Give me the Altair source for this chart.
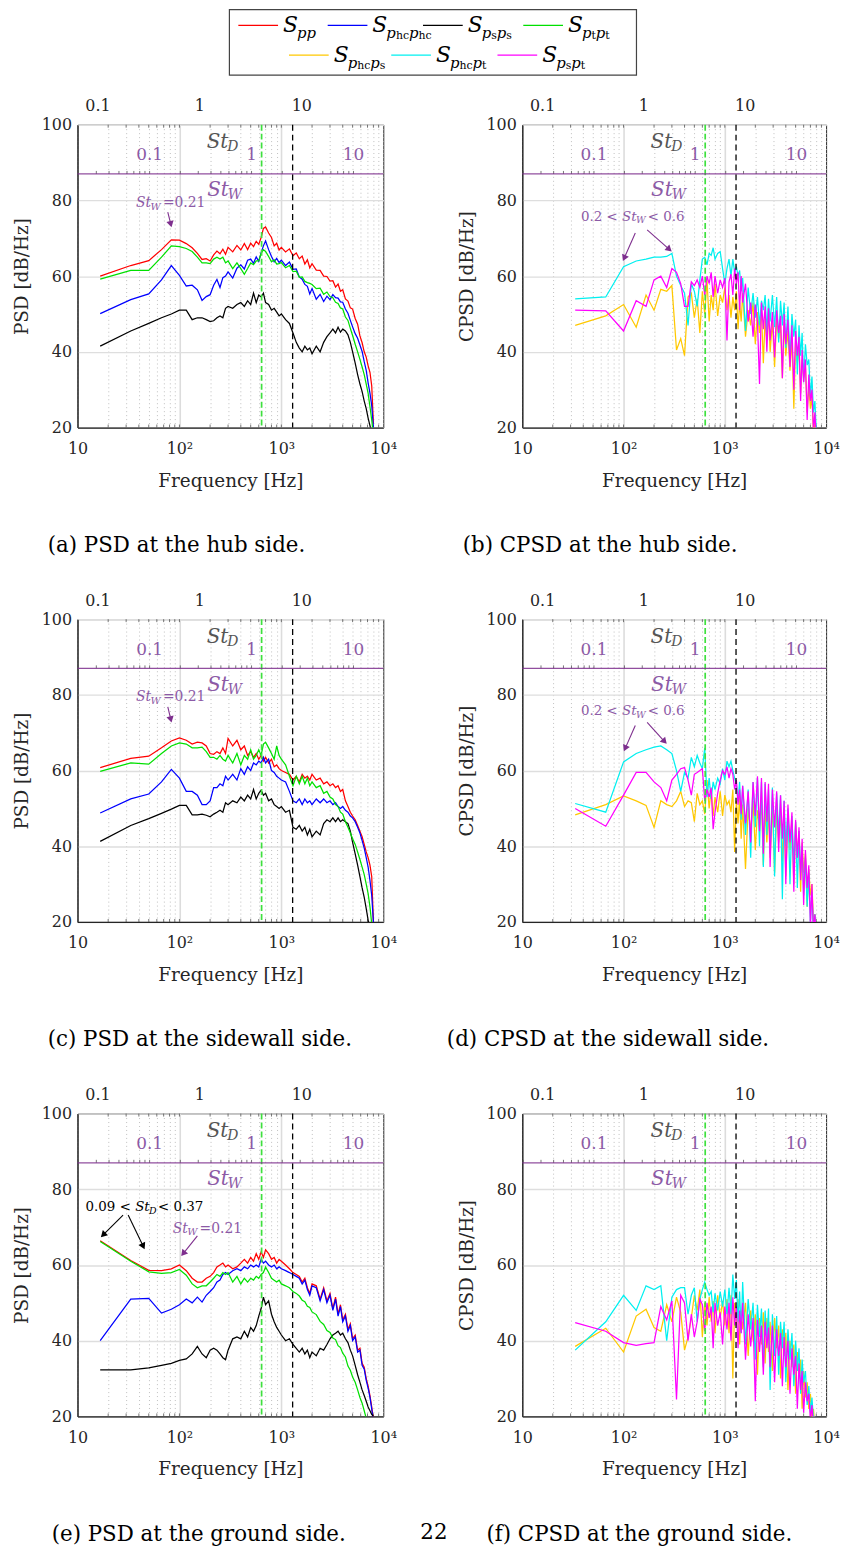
import math
import altair as alt
import pandas as pd

FONT = "DejaVu Serif"
AX = "#262626"
PURPLE = "#7E2F8E"
PURPLE_TXT = "#8C5AA6"
GRAY_TXT = "#555555"
NB = "\u00a0"

WL, WR, H = 308, 306, 305
X_DOMAIN = [10, 10000]
Y_DOMAIN = [20, 100]

# ---------------- data ----------------
F_PSD = [
    16.7, 33.3, 50, 66.7, 83.3, 100, 116.7, 133.3, 150, 166.7,
    183.3, 200, 216.7, 233.3, 250, 266.7, 283.3, 300, 333.3, 366.7,
    400, 433.3, 466.7, 500, 533.3, 566.7, 600, 633.3, 666.7, 700,
    750, 800, 850, 900, 950, 1000, 1100, 1200, 1300, 1400,
    1500, 1600, 1700, 1800, 1900, 2000, 2200, 2400, 2600, 2800,
    3000, 3200, 3400, 3600, 3800, 4000, 4250, 4500, 4750, 5000,
    5300, 5600, 5900, 6200, 6500, 6800, 7100, 7400, 7700, 8000,
]
F_CPSD = [
    33.3, 66.7, 100, 133.3, 166.7, 200, 233.3, 266.7, 300, 333.3,
    366.7, 400, 433.3, 466.7, 500, 533.3, 566.7, 600, 633.3, 666.7,
    700, 733.3, 766.7, 800, 850, 900, 950, 1000, 1050, 1100,
    1150, 1200, 1250, 1300, 1350, 1400, 1450, 1500, 1600, 1700,
    1800, 1900, 2000, 2100, 2200, 2300, 2400, 2500, 2600, 2700,
    2800, 2950, 3100, 3250, 3400, 3550, 3700, 3850, 4000, 4200,
    4400, 4600, 4800, 5000, 5200, 5400, 5600, 5800, 6000, 6250,
    6500, 6750, 7000, 7250, 7500, 7750, 8000, 8250,
]

# (a) PSD hub
A_PP = [
    60.0, 62.8, 64.1, 67.0, 69.6, 69.5, 68.6, 67.5, 66.0, 64.4,
    64.6, 64.0, 65.6, 66.6, 65.9, 67.1, 65.8, 67.6, 66.4, 68.1,
    66.9, 68.6, 67.0, 68.7, 67.8, 69.2, 68.4, 70.2, 72.6, 73.0,
    71.4, 70.2, 68.0, 68.7, 66.9, 67.6, 66.4, 67.2, 65.4, 66.1,
    64.6, 65.3, 63.2, 64.3, 62.2, 63.3, 61.6, 61.5, 60.0, 59.9,
    58.7, 58.8, 57.1, 57.9, 56.0, 56.4, 54.0, 53.4, 51.6, 51.3,
    48.8, 47.3, 44.2, 42.4, 40.0, 38.6, 36.3, 34.6, 31.0, 21.0,
]
A_HC = [
    50.1, 53.8, 55.3, 59.0, 62.8, 60.2, 57.4, 57.6, 56.4, 53.6,
    54.6, 55.1, 57.6, 59.1, 57.0, 59.6, 60.0, 61.1, 59.5, 62.1,
    63.0, 61.9, 64.2, 64.5, 63.4, 65.1, 63.9, 66.2, 68.0, 69.3,
    67.0, 65.2, 63.8, 64.7, 63.6, 64.2, 62.8, 63.7, 61.8, 61.9,
    59.8, 59.2, 57.8, 57.3, 55.3, 56.7, 53.9, 55.2, 53.3, 54.7,
    53.8, 55.1, 54.3, 54.2, 53.2, 53.1, 51.3, 50.2, 48.3, 46.6,
    44.8, 43.6, 41.8, 40.1, 37.4, 35.1, 31.8, 29.1, 25.8, 20.0,
]
A_S = [
    41.5, 45.5, 47.5, 49.0, 50.0, 51.0, 51.0, 48.5, 49.0, 49.0,
    48.5, 48.0, 48.2, 49.0, 49.5, 49.0, 51.5, 52.0, 51.5, 52.5,
    53.0, 52.0, 53.5, 52.5, 55.5, 53.0, 55.0, 54.5, 55.5, 53.0,
    52.5, 51.0, 51.5, 50.5, 49.5, 50.0, 48.5, 47.5, 45.0, 42.5,
    41.0, 40.0, 41.5, 40.5, 41.0, 39.5, 41.5, 40.0, 42.5, 44.0,
    45.0, 46.0, 45.0, 46.5, 45.2, 46.0, 45.5, 44.5, 42.5, 40.0,
    37.0, 34.0, 31.5, 29.5, 27.0, 25.0, 22.5, 20.5, 18.5, 16.0,
]
A_T = [
    59.2, 61.5, 61.5, 65.0, 68.0, 67.8, 67.3, 66.5, 65.0, 63.5,
    63.5, 63.3, 64.5, 65.0, 64.5, 65.0, 63.5, 64.0, 62.0, 63.5,
    62.0, 60.5, 62.0, 63.5, 63.0, 64.0, 64.0, 66.0, 67.0, 66.5,
    65.2, 63.8, 64.3, 63.2, 63.3, 63.6, 62.2, 62.8, 61.2, 61.3,
    59.7, 59.8, 58.6, 58.3, 58.1, 57.8, 56.7, 56.8, 55.2, 55.8,
    54.6, 54.3, 53.1, 52.8, 51.6, 51.3, 49.2, 48.3, 46.2, 44.3,
    42.0, 40.0, 38.0, 36.0, 34.0, 31.5, 29.0, 25.5, 22.0, 18.0,
]
# (c) PSD sidewall
C_PP = [
    60.8, 63.2, 63.8, 66.0, 67.8, 68.6, 68.0, 67.0, 67.5, 67.3,
    66.5, 64.5, 64.3, 65.0, 64.5, 66.0, 64.5, 68.5, 66.5, 68.0,
    65.5, 66.5, 64.0, 65.0, 63.5, 64.5, 63.0, 64.0, 62.5, 63.5,
    62.0, 63.0, 61.0, 61.5, 60.5, 60.0, 59.5, 59.0, 57.5, 58.5,
    57.0, 59.0, 58.0, 58.5, 57.5, 59.0, 57.5, 58.0, 56.5, 57.0,
    56.0, 56.5, 55.5, 56.0, 54.5, 55.0, 52.0, 50.5, 49.0, 48.0,
    47.0, 45.5, 44.0, 42.5, 40.5, 38.5, 37.0, 35.0, 32.0, 20.0,
]
C_HC = [
    48.8, 52.5, 53.8, 57.0, 60.3, 58.0, 54.5, 54.5, 53.5, 51.0,
    51.0, 52.0, 55.5, 55.5, 56.5, 56.0, 58.5, 57.5, 59.0, 57.5,
    60.5, 59.0, 61.0, 60.0, 62.0, 61.5, 62.5, 62.0, 63.5, 62.0,
    63.0, 60.0, 59.5, 58.5, 58.0, 57.5, 57.0, 54.5, 52.0, 51.5,
    52.5, 51.0, 52.5, 51.5, 52.0, 51.0, 52.5, 51.5, 52.5, 51.5,
    52.0, 51.0, 51.5, 50.5, 50.0, 50.5, 49.5, 49.0, 48.0, 47.5,
    46.5, 45.0, 43.5, 41.5, 39.5, 37.0, 34.5, 31.0, 27.0, 20.0,
]
C_S = [
    41.3, 45.5, 47.3, 48.7, 49.8, 50.8, 50.8, 48.3, 48.3, 48.5,
    48.2, 47.8, 48.5, 49.0, 49.5, 49.0, 51.5, 51.0, 52.0, 51.5,
    53.0, 52.0, 53.5, 52.5, 55.0, 52.5, 54.0, 54.8, 53.5, 54.0,
    52.0, 52.5, 51.0, 50.5, 50.0, 50.5, 49.0, 49.5, 45.0, 44.5,
    45.5, 44.0, 45.0, 43.0, 44.5, 42.5, 44.0, 43.0, 46.0, 47.0,
    46.5, 47.5, 46.5, 47.5, 46.5, 47.0, 46.5, 46.0, 44.0, 41.0,
    38.0, 35.0, 32.0, 29.0, 26.5, 23.5, 20.5, 18.0, 16.0, 14.0,
]
C_T = [
    59.8, 62.0, 61.7, 64.5, 66.5, 67.3, 67.0, 66.0, 66.0, 66.2,
    65.0, 63.5, 63.5, 63.0, 64.0, 63.0, 62.5, 64.0, 62.0, 64.5,
    61.5, 64.0, 63.0, 65.5, 63.0, 64.0, 65.5, 64.0, 67.0, 67.5,
    66.0, 64.5, 63.0, 66.5, 64.0, 63.0, 61.5, 58.5, 56.0, 58.5,
    56.5, 58.5, 56.5, 58.0, 56.0, 57.0, 55.5, 56.0, 54.0, 54.5,
    53.0, 52.5, 51.0, 50.5, 49.0, 48.5, 46.5, 45.0, 43.5, 42.0,
    40.5, 38.5, 36.5, 34.5, 32.5, 30.0, 27.5, 24.0, 19.5, 16.0,
]
# (e) PSD ground
E_PP = [
    66.4, 61.2, 58.6, 58.5, 59.0, 60.0, 58.5, 56.5, 55.5, 55.5,
    56.5, 57.0, 58.0, 59.5, 60.0, 60.5, 59.5, 60.0, 59.0, 59.5,
    60.5, 61.5, 60.5, 62.0, 61.0, 63.0, 61.5, 63.5, 62.0, 64.0,
    63.0, 61.5, 62.0, 60.5, 61.5, 61.0, 60.0, 59.0, 58.0, 57.5,
    57.0, 55.5, 56.5, 54.0, 52.5, 55.0, 54.5, 51.0, 54.0, 50.5,
    52.5, 48.5, 51.5, 47.0, 49.5, 45.5, 47.0, 43.0, 44.5, 40.5,
    41.5, 37.5, 38.0, 34.0, 33.0, 30.0, 28.0, 25.5, 22.5, 19.0,
]
E_HC = [
    40.0, 51.0, 51.2, 47.3, 48.3, 49.5, 51.0, 50.0, 51.5, 50.2,
    52.0, 53.0, 54.0, 55.5, 56.0, 57.5, 58.0, 57.5, 58.5, 59.0,
    58.5, 59.5, 59.0, 60.0, 59.5, 60.0, 59.5, 61.5, 60.5, 61.0,
    60.0, 59.5, 60.0, 59.0, 59.5, 59.0, 58.5, 58.0, 57.5, 57.0,
    56.5, 55.0, 56.0, 53.5, 52.0, 54.5, 54.0, 50.5, 53.5, 50.0,
    52.0, 48.0, 51.0, 46.5, 49.0, 45.0, 46.5, 42.5, 44.0, 40.0,
    41.0, 37.0, 37.5, 33.5, 32.5, 29.5, 27.5, 25.0, 22.0, 18.5,
]
E_S = [
    32.3, 32.3, 32.8, 33.5, 34.0, 34.8, 35.2, 36.5, 38.5, 36.5,
    35.5, 37.5, 38.0, 37.5, 36.5, 35.5, 35.0, 37.5, 40.5, 41.0,
    40.5, 42.5, 41.0, 43.5, 42.5, 44.0, 46.5, 48.5, 51.5, 49.5,
    50.5, 47.0, 45.0, 43.5, 42.5, 41.5, 40.0, 40.5, 39.0, 38.0,
    37.0, 38.0, 36.5, 37.5, 35.5, 37.0, 36.0, 38.0, 37.5, 39.0,
    40.5, 41.5, 42.0, 42.5, 41.5, 42.0, 40.5, 39.5, 37.5, 36.0,
    33.5, 31.0, 29.0, 27.0, 25.5, 24.0, 22.5, 21.5, 20.5, 20.0,
]
E_T = [
    66.2, 61.0, 58.2, 57.8, 58.0, 58.8, 57.3, 55.0, 54.0, 54.5,
    54.5, 55.5, 56.5, 57.5, 57.0, 58.0, 57.5, 58.0, 55.5, 57.0,
    55.0, 56.5, 55.5, 56.5, 56.0, 57.0, 56.5, 57.5, 58.0, 59.5,
    58.0, 56.5, 56.0, 55.5, 56.0, 55.0, 54.5, 54.0, 53.0, 52.5,
    51.8, 50.7, 50.3, 49.1, 48.8, 47.6, 46.9, 45.1, 44.3, 42.7,
    42.2, 40.7, 40.3, 38.7, 38.2, 36.7, 35.7, 33.3, 32.2, 30.4,
    29.0, 27.0, 25.0, 23.5, 21.5, 19.5, 17.0, 15.0, 14.0, 13.0,
]
# (b) CPSD hub
B_HCS = [
    47.0, 49.5, 52.5, 46.5, 55.0, 51.0, 56.5, 56.0, 57.5, 40.5,
    43.5, 39.0, 54.5, 55.5, 49.0, 54.0, 45.0, 56.0, 50.0, 59.0,
    48.0, 55.0, 51.0, 58.0, 49.5, 55.0, 53.0, 57.0, 51.0, 55.0,
    49.0, 54.5, 51.0, 56.0, 46.0, 53.0, 48.0, 55.5, 44.0, 51.0,
    47.0, 53.0, 42.0, 50.5, 45.0, 51.0, 37.0, 49.0, 43.0, 50.5,
    40.0, 48.0, 36.0, 49.0, 43.5, 47.0, 33.0, 48.0, 39.0, 45.5,
    35.0, 44.0, 25.0, 42.5, 37.0, 41.0, 29.0, 38.0, 33.0, 36.0,
    24.0, 31.0, 25.0, 28.0, 19.0, 22.0, 16.0, 14.0,
]
B_HCT = [
    54.0, 54.5, 62.5, 64.0, 64.5, 65.0, 65.0, 65.2, 66.0, 60.0,
    57.5, 55.5, 47.0, 58.0, 56.0, 52.0, 59.0, 64.5, 65.0, 63.0,
    66.0, 65.5, 67.5, 64.5, 66.0, 66.5, 62.0, 58.0, 62.0, 64.5,
    60.0, 64.5, 61.0, 62.5, 60.0, 61.5, 56.0, 59.5, 45.5, 57.0,
    50.0, 55.5, 49.0, 54.5, 47.0, 53.5, 51.0, 55.0, 45.0, 54.0,
    48.0, 55.0, 46.5, 54.5, 42.5, 53.5, 47.0, 53.0, 41.0, 52.0,
    37.5, 50.0, 44.0, 48.5, 34.0, 47.0, 39.0, 45.0, 32.0, 42.0,
    36.5, 38.0, 28.0, 33.5, 24.0, 27.0, 19.0, 17.0,
]
B_ST = [
    51.0, 50.8, 45.5, 53.5, 52.0, 59.0, 60.0, 57.0, 62.0, 61.0,
    58.0, 52.0, 52.0, 58.5, 57.5, 59.0, 57.0, 60.0, 55.0, 60.0,
    58.0, 61.0, 54.5, 60.0, 55.5, 59.0, 57.0, 59.5, 43.0, 58.5,
    60.5, 55.0, 62.0, 58.0, 61.0, 51.0, 60.0, 53.0, 58.0, 48.0,
    53.0, 44.0, 52.5, 48.0, 31.5, 53.0, 46.0, 52.0, 40.0, 51.5,
    43.0, 50.5, 38.5, 51.0, 45.0, 49.5, 33.0, 50.0, 42.0, 48.5,
    36.0, 47.0, 30.0, 45.5, 39.0, 44.0, 27.0, 40.5, 32.0, 38.0,
    22.0, 34.0, 27.0, 30.0, 19.0, 24.0, 17.0, 15.0,
]
# (d) CPSD sidewall
D_HCS = [
    48.3, 51.0, 53.3, 52.0, 50.8, 45.0, 52.0, 51.0, 50.5, 52.0,
    54.5, 50.5, 52.0, 51.5, 46.5, 54.0, 51.0, 52.0, 48.5, 57.5,
    50.0, 55.0, 48.0, 53.0, 49.0, 54.5, 48.0, 53.5, 51.0, 52.0,
    49.0, 55.0, 38.5, 52.0, 46.0, 53.0, 42.0, 51.0, 34.0, 50.0,
    44.0, 52.0, 39.0, 49.5, 45.0, 52.0, 35.0, 50.0, 41.0, 49.5,
    37.0, 51.0, 33.0, 50.0, 41.0, 49.0, 36.0, 50.0, 32.0, 48.0,
    39.0, 47.0, 30.0, 46.0, 37.0, 44.0, 28.0, 41.0, 33.0, 38.0,
    24.0, 34.0, 27.0, 30.0, 20.0, 22.0, 17.0, 14.0,
]
D_HCT = [
    51.3, 49.0, 62.3, 64.5, 65.5, 66.2, 66.5, 65.5, 64.5, 60.0,
    54.5, 59.5, 58.0, 63.5, 61.0, 64.0, 62.0, 60.5, 66.0, 53.0,
    58.0, 52.5, 57.0, 55.0, 58.0, 56.5, 60.5, 57.5, 62.5, 61.0,
    62.5, 60.0, 58.0, 56.5, 52.0, 57.0, 47.0, 56.0, 43.0, 55.0,
    37.0, 57.0, 45.0, 58.0, 40.0, 57.0, 34.5, 56.5, 43.0, 55.0,
    38.0, 55.5, 32.0, 54.0, 43.0, 53.5, 26.0, 52.0, 40.0, 50.0,
    30.0, 48.0, 35.0, 46.5, 29.0, 44.0, 33.0, 40.0, 27.0, 37.0,
    24.0, 33.0, 20.0, 28.0, 18.0, 22.0, 16.0, 14.0,
]
D_ST = [
    50.0, 45.3, 53.5, 59.5, 59.5, 57.0, 55.5, 52.0, 57.5, 59.0,
    60.5, 60.8, 57.5, 53.5, 59.0, 59.5, 60.0, 60.5, 52.0, 55.0,
    53.0, 55.5, 44.5, 49.0, 54.0, 57.5, 60.0, 59.0, 61.0, 58.0,
    60.5, 59.0, 55.0, 57.5, 51.0, 55.0, 48.5, 56.0, 46.0, 54.5,
    41.0, 57.0, 48.0, 58.5, 44.0, 58.0, 38.0, 57.0, 46.5, 56.5,
    34.5, 55.0, 45.0, 54.5, 38.5, 53.5, 42.0, 52.0, 30.0, 51.0,
    41.0, 49.0, 28.0, 47.0, 37.0, 45.0, 31.0, 42.0, 24.5, 39.0,
    29.0, 35.0, 19.0, 30.0, 17.0, 22.0, 16.0, 14.0,
]
# (f) CPSD ground
G_HCS = [
    38.5, 43.3, 37.0, 46.5, 48.3, 43.5, 42.5, 49.5, 45.0, 51.5,
    47.5, 37.5, 41.0, 46.0, 52.0, 48.0, 53.5, 41.0, 50.0, 44.0,
    51.5, 45.0, 50.5, 42.0, 52.0, 46.0, 50.5, 44.0, 51.0, 42.0,
    52.0, 30.0, 50.0, 44.0, 51.0, 39.0, 48.0, 43.0, 50.0, 36.0,
    48.0, 40.0, 47.0, 31.0, 46.0, 39.0, 47.5, 34.0, 46.0, 37.0,
    45.0, 32.0, 46.0, 38.0, 44.0, 30.0, 43.0, 36.0, 42.0, 27.0,
    40.0, 33.0, 39.0, 26.0, 37.0, 30.0, 35.0, 22.0, 32.0, 25.0,
    29.0, 22.0, 26.0, 19.0, 22.0, 17.0, 15.0, 14.0,
]
G_HCT = [
    37.5, 45.0, 52.0, 48.0, 54.5, 53.5, 54.5, 40.0, 51.5, 53.5,
    54.0, 54.0, 47.0, 52.0, 54.0, 45.0, 51.0, 53.5, 55.5, 53.5,
    52.0, 53.0, 47.5, 52.5, 48.0, 53.0, 49.0, 53.5, 47.0, 54.0,
    47.0, 57.5, 51.0, 56.0, 45.0, 53.0, 42.0, 55.5, 39.0, 51.0,
    43.0, 50.0, 35.0, 49.5, 41.0, 48.5, 33.0, 48.0, 40.0, 48.5,
    27.0, 47.0, 36.0, 46.5, 31.0, 45.0, 38.0, 45.0, 29.0, 43.0,
    35.0, 42.0, 28.0, 40.0, 32.0, 38.0, 26.0, 35.0, 29.0, 32.0,
    23.0, 28.0, 21.0, 25.0, 19.0, 20.0, 16.0, 14.0,
]
G_ST = [
    44.8, 42.5, 39.5, 38.8, 39.2, 39.5, 49.0, 45.5, 50.5, 24.5,
    52.0, 50.0, 40.0, 47.0, 41.0, 45.0, 51.0, 49.5, 42.5, 50.0,
    46.0, 49.0, 38.0, 50.0, 44.0, 47.5, 39.0, 49.0, 43.0, 50.0,
    40.0, 51.5, 44.0, 49.0, 38.0, 48.0, 42.0, 50.0, 35.0, 47.0,
    38.5, 46.0, 24.0, 45.5, 37.0, 44.0, 31.0, 45.0, 38.0, 43.5,
    33.0, 44.0, 29.0, 43.0, 36.0, 42.0, 28.0, 41.0, 33.0, 40.0,
    26.0, 38.0, 31.0, 36.0, 22.0, 34.0, 27.0, 32.0, 21.0, 29.0,
    24.0, 26.0, 19.0, 23.0, 17.0, 20.0, 15.0, 14.0,
]

PSD_COLORS = ["#FF0000", "#0000FF", "#000000", "#00E000"]
CPSD_COLORS = ["#FFC800", "#00F0F0", "#FF00FF"]

ST_D_HZ = 157.0      # Hz per unit St_D
ST_W_HZ = 510.0      # Hz per unit St_W
F_GREEN_DASH = 640.0
F_BLACK_DASH = 1290.0
ST_LINE_DB = 87.0

CAPTIONS = {
    "a": "(a) PSD at the hub side.",
    "b": "(b) CPSD at the hub side.",
    "c": "(c) PSD at the sidewall side.",
    "d": "(d) CPSD at the sidewall side.",
    "e": "(e) PSD at the ground side.",
    "f": "(f) CPSD at the ground side.",
}
PAGE_NUMBER = "22"

# ---------------- helpers ----------------
CW = {"0": .636, "1": .636, "2": .636, "3": .636, "4": .636, "5": .636, "6": .636,
      "7": .636, "8": .636, "9": .636, ".": .318, " ": .318, NB: .318, "<": .838, "=": .838,
      "S": .64, "t": .40, "W": 1.25, "D": .95, "p": .64, "h": .64, "c": .56, "s": .51}


def tw(s, size):
    return sum(CW.get(ch, 0.6) for ch in s) * size


def rich_rows(f0, v0, pieces, color, pxdec, pxdb):
    rows, x = [], 0.0
    for text, size, italic, dy in pieces:
        rows.append(dict(f=f0 * 10 ** (x / pxdec), v=v0 - dy / pxdb, t=text,
                         s=size, c=color, it=italic))
        x += tw(text, size)
    return rows


ST_W_021 = [("St", 14, True, 0), ("W", 10, True, 3.5), ("=0.21", 14, False, 0)]
ST_W_RANGE = [("0.2" + NB + "<" + NB, 13.5, False, 0), ("St", 13.5, True, 0), ("W", 9.5, True, 3.5),
              (NB + "<" + NB + "0.6", 13.5, False, 0)]
ST_D_RANGE = [("0.09" + NB + "<" + NB, 13.5, False, 0), ("St", 13.5, True, 0), ("D", 9.5, True, 3.5),
              (NB + "<" + NB + "0.37", 13.5, False, 0)]

ANNOS = {
    "a": dict(texts=[(37.5, 79.3, ST_W_021, PURPLE_TXT)],
              arrows=[(76.9, 76.9, 84.0, 72.7, PURPLE)]),
    "c": dict(texts=[(37.5, 79.3, ST_W_021, PURPLE_TXT)],
              arrows=[(76.9, 76.8, 84.0, 72.5, PURPLE)]),
    "b": dict(texts=[(37.9, 75.7, ST_W_RANGE, PURPLE_TXT)],
              arrows=[(130.6, 71.4, 97.8, 63.8, PURPLE), (171.0, 72.2, 303.0, 66.4, PURPLE)]),
    "d": dict(texts=[(37.9, 75.6, ST_W_RANGE, PURPLE_TXT)],
              arrows=[(130.6, 71.9, 100.0, 64.9, PURPLE), (171.0, 72.7, 270.0, 66.9, PURPLE)]),
    "e": dict(texts=[(12.0, 75.3, ST_D_RANGE, "#000000"), (86.0, 69.6, ST_W_021, PURPLE_TXT)],
              arrows=[(28.0, 73.2, 16.75, 67.2, "#000000"), (31.4, 73.2, 45.9, 64.0, "#000000"),
                      (150.0, 67.7, 103.0, 62.2, PURPLE)]),
    "f": dict(texts=[], arrows=[]),
}

# caption placement (pixels, relative to the plot's top-left corner)
CAP_DX = {"a": -30, "b": -60, "c": -30, "d": -76, "e": -26, "f": -36}
CAP_DY = 424
PAGE_NO_POS = (359, 422)

MINOR = [m * 10 ** e for e in (1, 2, 3) for m in range(1, 10)] + [10000]
DECADE_TEST = "datum.value == 100 || datum.value == 1000"


def panel(key, freqs, series, colors, width, ylabel):
    pxdec = width / 3.0
    pxdb = H / 80.0
    xs = alt.Scale(type="log", domain=X_DOMAIN, nice=False)
    ys = alt.Scale(domain=Y_DOMAIN, nice=False, zero=False)

    bottom_axis = alt.Axis(
        orient="bottom", values=MINOR, title="Frequency [Hz]",
        labelExpr="datum.value == 10 ? '10' : datum.value == 100 ? '10\u00b2' : "
                  "datum.value == 1000 ? '10\u00b3' : datum.value == 10000 ? '10\u2074' : ''",
        grid=True,
        gridColor={"condition": {"test": DECADE_TEST, "value": "#dcdcdc"}, "value": "#b8b8b8"},
        gridDash={"condition": {"test": DECADE_TEST, "value": [1, 0]}, "value": [1, 3]},
        gridWidth={"condition": {"test": DECADE_TEST, "value": 1.6}, "value": 0.9},
        labelOverlap=False, labelFlush=False, labelPadding=13, titlePadding=15,
        ticks=False, domain=True, domainColor=AX, domainWidth=1.2,
    )
    left_axis = alt.Axis(
        orient="left", values=[20, 40, 60, 80, 100], title=ylabel, grid=True, gridColor="#dedede",
        gridWidth=1.4, labelPadding=6, titlePadding=10, ticks=False, domain=True,
        domainColor=AX, domainWidth=1.2,
    )
    top_axis = alt.Axis(
        orient="top", values=[0.1 * ST_D_HZ, 1 * ST_D_HZ, 10 * ST_D_HZ], title=None,
        labelExpr="datum.value < 50 ? '0.1' : (datum.value < 500 ? '1' : '10')",
        grid=False, ticks=False, domain=False, labelPadding=11, labelFlush=False,
        labelOverlap=False,
    )

    def X(field, axis=None):
        return alt.X(field, type="quantitative", scale=xs, axis=axis)

    def Y(field, axis=None):
        return alt.Y(field, type="quantitative", scale=ys, axis=axis)

    frame_df = pd.DataFrame({"f": X_DOMAIN, "v": Y_DOMAIN})
    layers = [
        alt.Chart(frame_df).mark_point(opacity=0).encode(x=X("f", bottom_axis), y=Y("v", left_axis)),
        alt.Chart(frame_df).mark_point(opacity=0).encode(x=X("f", top_axis), y=Y("v")),
    ]

    # small inward ticks on the frame (bottom/top) and on the St_W line
    tick_rows = [dict(f=m, v=20.0, v2=20.0 + 3.0 / pxdb) for m in MINOR[1:-1]]
    tick_rows += [dict(f=m, v=100.0, v2=100.0 - 3.0 / pxdb) for m in MINOR[1:-1]]
    stw = [m * 10 ** e * ST_W_HZ for e in (-2, -1, 0, 1) for m in range(1, 10)]
    tick_rows += [dict(f=f, v=ST_LINE_DB, v2=ST_LINE_DB + 3.0 / pxdb) for f in stw
                  if X_DOMAIN[0] < f < X_DOMAIN[1]]
    layers.append(alt.Chart(pd.DataFrame(tick_rows)).mark_rule(color="#555555", strokeWidth=0.8)
                  .encode(x=X("f"), y=Y("v"), y2="v2"))

    # data lines
    for vals, col in zip(series, colors):
        n = min(len(freqs), len(vals))
        df = pd.DataFrame({"f": freqs[:n], "v": vals[:n]})
        layers.append(alt.Chart(df).mark_line(color=col, strokeWidth=1.25, clip=True)
                      .encode(x=X("f"), y=Y("v")))

    # reference lines
    layers.append(alt.Chart(pd.DataFrame({"f": [F_GREEN_DASH]}))
                  .mark_rule(color="#3EE03E", strokeWidth=1.7, strokeDash=[6, 3]).encode(x=X("f")))
    layers.append(alt.Chart(pd.DataFrame({"f": [F_BLACK_DASH]}))
                  .mark_rule(color="#000000", strokeWidth=1.3, strokeDash=[6, 4]).encode(x=X("f")))
    layers.append(alt.Chart(pd.DataFrame({"v": [ST_LINE_DB]}))
                  .mark_rule(color=PURPLE, strokeWidth=1.3, opacity=0.85).encode(y=Y("v")))

    # St_W decade labels
    stw_df = pd.DataFrame({"f": [0.1 * ST_W_HZ, ST_W_HZ, 10 * ST_W_HZ], "v": [91.9] * 3,
                           "t": ["0.1", "1", "10"]})
    layers.append(alt.Chart(stw_df).mark_text(font=FONT, fontSize=17, color=PURPLE_TXT,
                                              baseline="middle", align="center")
                  .encode(x=X("f"), y=Y("v"), text="t:N"))

    # rich texts
    rows = []
    rows += rich_rows(185.0, 95.3, [("St", 20, True, 0), ("D", 14, True, 5)], GRAY_TXT, pxdec, pxdb)
    rows += rich_rows(187.0, 82.7, [("St", 20, True, 0), ("W", 14, True, 5)], PURPLE_TXT, pxdec, pxdb)
    for f0, v0, pieces, col in ANNOS[key]["texts"]:
        rows += rich_rows(f0, v0, pieces, col, pxdec, pxdb)
    tdf = pd.DataFrame(rows)
    for italic in (True, False):
        sub = tdf[tdf["it"] == italic]
        if len(sub):
            layers.append(alt.Chart(sub).mark_text(font=FONT, fontStyle="italic" if italic else "normal",
                                                   align="left", baseline="middle")
                          .encode(x=X("f"), y=Y("v"), text="t:N",
                                  size=alt.Size("s:Q", scale=None),
                                  color=alt.Color("c:N", scale=None)))

    # arrows
    arrows = ANNOS[key]["arrows"]
    if arrows:
        arows, hrows = [], []
        for f1, v1, f2, v2, col in arrows:
            dxp = (math.log10(f2) - math.log10(f1)) * pxdec
            dyp = -(v2 - v1) * pxdb
            L = math.hypot(dxp, dyp)
            ux, uy = dxp / L, dyp / L
            ang = math.degrees(math.atan2(dxp, -dyp)) % 360
            back = 4.0
            arows.append(dict(f1=f1, v1=v1, f2=f2 * 10 ** (-(ux * back) / pxdec),
                              v2=v2 + (uy * back) / pxdb, c=col))
            hrows.append(dict(f=f2 * 10 ** (-(ux * back) / pxdec), v=v2 + (uy * back) / pxdb,
                              a=ang, c=col))
        layers.append(alt.Chart(pd.DataFrame(arows)).mark_rule(strokeWidth=1.1)
                      .encode(x=X("f1"), x2="f2", y=Y("v1"), y2="v2",
                              color=alt.Color("c:N", scale=None)))
        layers.append(alt.Chart(pd.DataFrame(hrows)).mark_point(shape="triangle-up", filled=True,
                                                                size=55, opacity=1)
                      .encode(x=X("f"), y=Y("v"), angle=alt.Angle("a:Q", scale=None),
                              color=alt.Color("c:N", scale=None)))

    # caption (and page number) as text below the panel
    cap_df = pd.DataFrame({"t": [CAPTIONS[key]]})
    layers.append(alt.Chart(cap_df).mark_text(font=FONT, fontSize=21.5, color="#000000",
                                              align="left", baseline="middle")
                  .encode(x=alt.value(CAP_DX[key]), y=alt.value(CAP_DY), text="t:N"))
    if key == "e":
        pn_df = pd.DataFrame({"t": [PAGE_NUMBER]})
        layers.append(alt.Chart(pn_df).mark_text(font=FONT, fontSize=21.5, color="#000000",
                                                 align="center", baseline="middle")
                      .encode(x=alt.value(PAGE_NO_POS[0]), y=alt.value(PAGE_NO_POS[1]), text="t:N"))

    ch = alt.layer(*layers).resolve_axis(x="independent", y="independent").properties(
        width=width, height=H,
        view=alt.ViewBackground(stroke=AX, strokeWidth=1),
    )
    return ch


pa = panel("a", F_PSD, [A_PP, A_HC, A_S, A_T], PSD_COLORS, WL, "PSD [dB/Hz]")
pb = panel("b", F_CPSD, [B_HCS, B_HCT, B_ST], CPSD_COLORS, WR, "CPSD [dB/Hz]")
pc = panel("c", F_PSD, [C_PP, C_HC, C_S, C_T], PSD_COLORS, WL, "PSD [dB/Hz]")
pd_ = panel("d", F_CPSD, [D_HCS, D_HCT, D_ST], CPSD_COLORS, WR, "CPSD [dB/Hz]")
pe = panel("e", F_PSD, [E_PP, E_HC, E_S, E_T], PSD_COLORS, WL, "PSD [dB/Hz]")
pf = panel("f", F_CPSD, [G_HCS, G_HCT, G_ST], CPSD_COLORS, WR, "CPSD [dB/Hz]")

# ---------------- legend (custom, with sub-scripted labels) ----------------
LW, LH = 563, 66
LEG_BOX = (153, 0, 563, 66)
LEG_ENTRIES = [
    # x of line start, row y, colour, label pieces (text, size, italic, dy)
    (162, 16, PSD_COLORS[0], [("S", 22, True, 0), ("pp", 15, True, 8)]),
    (252, 16, PSD_COLORS[1], [("S", 22, True, 0), ("p", 15, True, 8), ("hc", 11, False, 11),
                              ("p", 15, True, 8), ("hc", 11, False, 11)]),
    (348, 16, PSD_COLORS[2], [("S", 22, True, 0), ("p", 15, True, 8), ("s", 11, False, 11),
                              ("p", 15, True, 8), ("s", 11, False, 11)]),
    (449, 16, PSD_COLORS[3], [("S", 22, True, 0), ("p", 15, True, 8), ("t", 11, False, 11),
                              ("p", 15, True, 8), ("t", 11, False, 11)]),
    (213, 46, CPSD_COLORS[0], [("S", 22, True, 0), ("p", 15, True, 8), ("hc", 11, False, 11),
                               ("p", 15, True, 8), ("s", 11, False, 11)]),
    (316, 46, CPSD_COLORS[1], [("S", 22, True, 0), ("p", 15, True, 8), ("hc", 11, False, 11),
                               ("p", 15, True, 8), ("t", 11, False, 11)]),
    (423, 46, CPSD_COLORS[2], [("S", 22, True, 0), ("p", 15, True, 8), ("s", 11, False, 11),
                               ("p", 15, True, 8), ("t", 11, False, 11)]),
]
LINE_LEN, TEXT_GAP = 40, 5

lx = alt.Scale(domain=[0, LW], range=[0, LW])
ly = alt.Scale(domain=[0, LH], range=[0, LH])
lrows, ltext = [], []
for x0, y0, col, pieces in LEG_ENTRIES:
    lrows.append(dict(x=x0, x2=x0 + LINE_LEN, y=y0, c=col))
    x = x0 + LINE_LEN + TEXT_GAP
    for text, size, italic, dy in pieces:
        ltext.append(dict(x=x, y=y0 + dy, t=text, s=size, it=italic))
        x += tw(text, size)
ltext_df = pd.DataFrame(ltext)
box_df = pd.DataFrame([dict(x=LEG_BOX[0], x2=LEG_BOX[2], y=LEG_BOX[1], y2=LEG_BOX[3])])
leg_layers = [
    alt.Chart(box_df).mark_rect(fillOpacity=0, stroke="#444444", strokeWidth=1.2)
    .encode(x=alt.X("x:Q", scale=lx, axis=None), x2="x2", y=alt.Y("y:Q", scale=ly, axis=None), y2="y2"),
    alt.Chart(pd.DataFrame(lrows)).mark_rule(strokeWidth=1.3)
    .encode(x=alt.X("x:Q", scale=lx, axis=None), x2="x2", y=alt.Y("y:Q", scale=ly, axis=None),
            color=alt.Color("c:N", scale=None)),
]
for italic in (True, False):
    sub = ltext_df[ltext_df["it"] == italic]
    leg_layers.append(alt.Chart(sub).mark_text(font=FONT, fontStyle="italic" if italic else "normal",
                                               align="left", baseline="middle", color="#000000")
                      .encode(x=alt.X("x:Q", scale=lx, axis=None), y=alt.Y("y:Q", scale=ly, axis=None),
                              text="t:N", size=alt.Size("s:Q", scale=None)))
legend = alt.layer(*leg_layers).properties(width=LW, height=LH,
                                           view=alt.ViewBackground(stroke="transparent"))

grid = alt.concat(pa, pb, pc, pd_, pe, pf, columns=2,
                  spacing={"row": 193, "column": 140}, bounds="flush")

chart = (
    alt.vconcat(legend, grid, spacing=20, bounds="full")
    .properties(padding={"left": 3, "top": -6, "right": 0, "bottom": 0})
    .configure_view(stroke="transparent")
    .configure_axis(labelFont=FONT, titleFont=FONT, labelFontSize=16, titleFontSize=18.5,
                    labelColor=AX, titleColor=AX, titleFontWeight="normal")
)

chart.save("out.html", embed_options={"renderer": "svg", "actions": False})
